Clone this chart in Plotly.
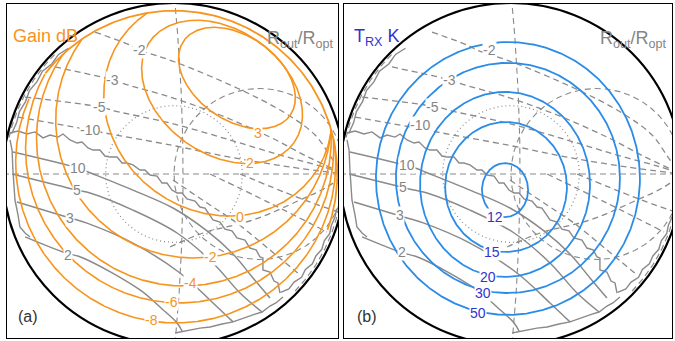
import numpy as np
import plotly.graph_objects as go

# ---------------- data (reflection-coefficient plane, |Gamma| = 1 is the rim) ----------------
# Gain contours of panel (a), dB, modelled as (tilted) ellipses
gain_levels = [3, 2, 0, -2, -4, -6, -8]
gain_cu = [0.368, 0.281, 0.257, 0.114, 0.058, 0.033, 0.010]
gain_cv = [0.561, 0.480, 0.398, 0.315, 0.207, 0.147, 0.065]
gain_a = [0.380, 0.515, 0.690, 0.806, 0.862, 0.901, 0.936]
gain_b = [0.246, 0.363, 0.620, 0.806, 0.862, 0.901, 0.936]
gain_ang = [-35, -35, -35, 0, 0, 0, 0]
gain_lab_u = [0.491, 0.444, 0.386, 0.211, 0.094, -0.012, -0.129]
gain_lab_v = [0.240, 0.064, -0.251, -0.485, -0.637, -0.749, -0.854]
gain_edge = 0.955          # limit of the computed gain map
gain_edge_ang = [142, -20]

# Receiver noise temperature contours of panel (b), K
trx_levels = [12, 15, 20, 30, 50]
trx_cu = [-0.035, -0.029, -0.035, -0.018, -0.018]
trx_cv = [-0.094, -0.076, -0.061, -0.023, -0.026]
trx_rx = [0.135, 0.356, 0.497, 0.655, 0.772]
trx_ry = [0.158, 0.380, 0.541, 0.673, 0.798]
trx_lab_u = [-0.094, -0.111, -0.135, -0.164, -0.193]
trx_lab_v = [-0.251, -0.456, -0.602, -0.696, -0.813]

# Rout/Ropt contours (identical in both panels)
rp2_u = [-0.871, -0.649, -0.532, -0.199, -0.082, 0.018, 0.047]
rp2_v = [-0.368, -0.456, -0.491, -0.678, -0.778, -0.871, -0.918]
rp3_u = [-0.918, -0.608, -0.509, -0.240, 0.035, 0.228, 0.345]
rp3_v = [-0.164, -0.257, -0.287, -0.404, -0.579, -0.754, -0.865]
rp5_u = [-0.947, -0.567, -0.491, -0.240, 0.018, 0.228, 0.386, 0.515]
rp5_v = [0.0, -0.094, -0.111, -0.211, -0.345, -0.520, -0.696, -0.807]
rp10_u = [-0.942, -0.561, -0.503, -0.240, -0.006, 0.193, 0.345, 0.462, 0.561]
rp10_v = [0.129, 0.035, 0.012, -0.094, -0.199, -0.333, -0.468, -0.608, -0.725]
rn2_u = [-0.462, -0.257, -0.199, 0.006, 0.368, 0.649, 0.825, 0.930, 1.0]
rn2_v = [0.830, 0.754, 0.725, 0.655, 0.503, 0.357, 0.228, 0.082, 0.0]
rn3_u = [-0.696, -0.357, -0.287, -0.023, 0.269, 0.561, 0.795, 1.0]
rn3_v = [0.626, 0.550, 0.526, 0.450, 0.345, 0.216, 0.094, 0.0]
rn5_u = [-0.871, -0.433, -0.345, -0.023, 0.327, 0.620, 0.854, 1.0]
rn5_v = [0.450, 0.392, 0.368, 0.298, 0.199, 0.111, 0.047, 0.0]
rn10_u = [-0.912, -0.491, -0.404, -0.023, 0.327, 0.678, 1.0]
rn10_v = [0.333, 0.257, 0.240, 0.170, 0.099, 0.041, 0.0]
# further (unlabelled) negative contours in the lower right
rnx1_u = [-0.023, 0.170, 0.462, 0.737, 0.895, 1.0]
rnx1_v = [-0.427, -0.345, -0.269, -0.152, -0.076, 0.0]
rnx2_u = [-0.006, 0.193, 0.368, 0.561, 0.737]
rnx2_v = [-0.035, -0.170, -0.287, -0.444, -0.591]
rnx3_u = [0.211, 0.561, 0.895]
rnx3_v = [0.0, -0.170, -0.339]
rnx4_u = [0.386, 0.719, 0.959]
rnx4_v = [0.0, -0.135, -0.222]
rout_pos_levels = ["2", "3", "5", "10"]
rout_neg_levels = ["-2", "-3", "-5", "-10"]
# pole of Rout/Ropt (jagged numerical line)
pole_u = [-0.959, -0.912, -0.860, -0.813, -0.766, -0.725, -0.678, -0.649, -0.608, -0.567,
          -0.538, -0.503, -0.474, -0.433, -0.404, -0.374, -0.333, -0.304, -0.275, -0.240,
          -0.199, -0.170, -0.140, -0.099, -0.070, -0.041, -0.012, 0.018, 0.047, 0.076,
          0.123, 0.152, 0.181, 0.211, 0.228, 0.269, 0.298, 0.339, 0.368, 0.415,
          0.444, 0.480, 0.503, 0.520, 0.520, 0.561, 0.585, 0.608, 0.620]
pole_v = [0.240, 0.251, 0.234, 0.246, 0.211, 0.228, 0.216, 0.234, 0.199, 0.181,
          0.187, 0.152, 0.140, 0.140, 0.105, 0.099, 0.099, 0.064, 0.064, 0.053,
          0.023, 0.023, -0.006, -0.012, -0.053, -0.053, -0.094, -0.111, -0.111, -0.146,
          -0.158, -0.193, -0.199, -0.246, -0.269, -0.281, -0.322, -0.333, -0.374, -0.386,
          -0.433, -0.444, -0.485, -0.491, -0.561, -0.573, -0.626, -0.637, -0.696]
# edges of the computed Rout/Ropt map
edge_left_u = [-0.959, -0.947, -0.942, -0.936, -0.930, -0.912, -0.901, -0.871, -0.842]
edge_left_v = [0.199, 0.140, 0.023, -0.064, -0.152, -0.240, -0.310, -0.345, -0.368]
edge_bot_u = [0.637, 0.596, 0.561, 0.515, 0.474, 0.415, 0.345, 0.281, 0.211, 0.152, 0.094, 0.047, 0.006]
edge_bot_v = [-0.719, -0.754, -0.772, -0.807, -0.819, -0.842, -0.865, -0.877, -0.895, -0.901,
              -0.912, -0.918, -0.930]
edge_ul_ang = [130, 134, 138, 142, 146, 150, 154, 158, 162, 166]
edge_ul_r = [0.960, 0.972, 0.962, 0.976, 0.966, 0.976, 0.966, 0.975, 0.968, 0.978]
edge_lr_ang = [-48, -45, -42, -39, -36, -33, -30, -27, -24, -21, -18, -15, -12]
edge_lr_r = [0.932, 0.950, 0.945, 0.960, 0.950, 0.965, 0.958, 0.970, 0.962, 0.975, 0.968, 0.975, 0.972]
edge_ul_dash_ang = [135, 168]
edge_lr_dash_ang = [-44, -8]
# label positions per panel (order: 2, 3, 5, 10, -2, -3, -5, -10)
ra_lab_u = [-0.620, -0.608, -0.567, -0.561, -0.199, -0.357, -0.433, -0.491]
ra_lab_v = [-0.474, -0.257, -0.094, 0.035, 0.725, 0.550, 0.392, 0.257]
rb_lab_u = [-0.637, -0.649, -0.632, -0.608, -0.123, -0.357, -0.462, -0.532]
rb_lab_v = [-0.456, -0.240, -0.076, 0.053, 0.725, 0.550, 0.392, 0.287]

# ---------------- styling ----------------
ORANGE = "#F7941D"
BLUE = "#2B8CE8"
BLUE_TXT = "#3333CC"
GRAY = "#8A8A8A"
GRAY_TXT = "#858585"
DASH = "6px,4px"
DOT = "1px,3px"
F = "Arial, Liberation Sans"

fig = go.Figure()


def ellipse(cu, cv, a, b, ang, n=721):
    t = np.linspace(0, 2 * np.pi, n)
    ca, sa = np.cos(np.radians(ang)), np.sin(np.radians(ang))
    x, y = a * np.cos(t), b * np.sin(t)
    return cu + x * ca - y * sa, cv + x * sa + y * ca


def clip_disk(u, v, r):
    inside = u ** 2 + v ** 2 <= r ** 2
    if inside.all():
        return list(u), list(v)
    k = int(np.argmin(inside))
    u, v, inside = np.roll(u[:-1], -k), np.roll(v[:-1], -k), np.roll(inside[:-1], -k)
    U, V, prev = [], [], False
    for a, b, ins in zip(u, v, inside):
        if ins:
            U.append(float(a)); V.append(float(b))
        elif prev:
            U.append(None); V.append(None)
        prev = ins
    return U, V


def polar(ang, r):
    a = np.radians(np.asarray(ang, float))
    r = np.asarray(r, float)
    return list(r * np.cos(a)), list(r * np.sin(a))


def arc(a0, a1, r, n=80):
    a = np.linspace(a0, a1, n)
    return polar(a, np.full(a.size, r))


def line(xa, ya, u, v, color, width=1.4, dash=None, shape="linear"):
    fig.add_trace(go.Scatter(x=u, y=v, mode="lines", xaxis=xa, yaxis=ya, hoverinfo="skip",
                             line=dict(color=color, width=width, dash=dash, shape=shape),
                             showlegend=False))


def label(xr, yr, u, v, text, color, size=14):
    fig.add_annotation(x=u, y=v, xref=xr, yref=yr, text=text, showarrow=False,
                       font=dict(family=F, size=size, color=color),
                       bgcolor="white", borderpad=0)


def common(xa, ya, lab_u, lab_v):
    # Smith-type grid
    line(xa, ya, [-1, 1], [0, 0], GRAY, 1.1, DASH)
    u, v = ellipse(0.5, 0, 0.5, 0.5, 0)
    line(xa, ya, list(u), list(v), GRAY, 1.1, DASH)
    u, v = ellipse(-10.48, 0, 10.533, 10.533, 0, 6001)
    U, V = clip_disk(u, v, 1.0)
    line(xa, ya, U, V, GRAY, 1.1, DASH)
    u, v = ellipse(0, 0, 0.40, 0.40, 0)
    line(xa, ya, list(u), list(v), GRAY, 1.2, DOT)
    # Rout/Ropt contours
    for u, v in [(rp2_u, rp2_v), (rp3_u, rp3_v), (rp5_u, rp5_v), (rp10_u, rp10_v)]:
        line(xa, ya, u, v, GRAY, 1.5, None, "spline")
    for u, v in [(rn2_u, rn2_v), (rn3_u, rn3_v), (rn5_u, rn5_v), (rn10_u, rn10_v),
                 (rnx1_u, rnx1_v), (rnx2_u, rnx2_v), (rnx3_u, rnx3_v), (rnx4_u, rnx4_v)]:
        line(xa, ya, u, v, GRAY, 1.3, DASH, "spline")
    line(xa, ya, pole_u, pole_v, GRAY, 1.4)
    line(xa, ya, edge_left_u, edge_left_v, GRAY, 1.4)
    line(xa, ya, edge_bot_u, edge_bot_v, GRAY, 1.4)
    u, v = polar(edge_ul_ang, edge_ul_r)
    line(xa, ya, u, v, GRAY, 1.4)
    u, v = polar(edge_lr_ang, edge_lr_r)
    line(xa, ya, u, v, GRAY, 1.4)
    u, v = arc(edge_ul_dash_ang[0], edge_ul_dash_ang[1], 0.988)
    line(xa, ya, u, v, GRAY, 1.2, DASH)
    u, v = arc(edge_lr_dash_ang[0], edge_lr_dash_ang[1], 0.985)
    line(xa, ya, u, v, GRAY, 1.2, DASH)
    for t, u, v in zip(rout_pos_levels + rout_neg_levels, lab_u, lab_v):
        label(xa, ya, u, v, t, GRAY_TXT)


# panel (a)
common("x", "y", ra_lab_u, ra_lab_v)
for lev, cu, cv, a, b, ang, lu, lv in zip(gain_levels, gain_cu, gain_cv, gain_a, gain_b,
                                          gain_ang, gain_lab_u, gain_lab_v):
    u, v = ellipse(cu, cv, a, b, ang, 1441)
    U, V = clip_disk(u, v, gain_edge)
    line("x", "y", U, V, ORANGE, 1.6)
    label("x", "y", lu, lv, str(lev), ORANGE)
u, v = arc(gain_edge_ang[0], gain_edge_ang[1], gain_edge, 160)
line("x", "y", u, v, ORANGE, 1.8)

# panel (b)
common("x2", "y2", rb_lab_u, rb_lab_v)
for lev, cu, cv, rx, ry, lu, lv in zip(trx_levels, trx_cu, trx_cv, trx_rx, trx_ry,
                                       trx_lab_u, trx_lab_v):
    u, v = ellipse(cu, cv, rx, ry, 0)
    line("x2", "y2", list(u), list(v), BLUE, 1.8)
    label("x2", "y2", lu, lv, str(lev), BLUE_TXT)

# rims
for xr, yr in (("x", "y"), ("x2", "y2")):
    fig.add_shape(type="circle", xref=xr, yref=yr, x0=-1, x1=1, y0=-1, y1=1,
                  line=dict(color="black", width=2.2))

W, H = 675, 341
CX_A, CX_B, CY, S = 174, 511, 174, 171
ax = dict(showgrid=False, zeroline=False, showticklabels=False, ticks="", showline=True,
          mirror=True, linecolor="black", linewidth=1, fixedrange=True)
yr_ = [(CY - 338) / S, (CY - 4) / S]
fig.update_layout(
    width=W, height=H, margin=dict(l=0, r=0, t=0, b=0),
    paper_bgcolor="white", plot_bgcolor="rgba(0,0,0,0)",
    xaxis=dict(ax, domain=[7 / W, 338 / W], range=[(7 - CX_A) / S, (338 - CX_A) / S]),
    yaxis=dict(ax, domain=[(H - 338) / H, (H - 4) / H], range=yr_),
    xaxis2=dict(ax, domain=[344 / W, 672 / W], range=[(344 - CX_B) / S, (672 - CX_B) / S],
                anchor="y2"),
    yaxis2=dict(ax, domain=[(H - 338) / H, (H - 4) / H], range=yr_, anchor="x2"),
)

fig.add_annotation(x=11 / W, y=1 - 24 / H, xref="paper", yref="paper", xanchor="left",
                   text="Gain dB", showarrow=False, font=dict(family=F, size=18, color=ORANGE))
fig.add_annotation(x=336 / W, y=1 - 26 / H, xref="paper", yref="paper", xanchor="right",
                   text="R<sub>out</sub>/R<sub>opt</sub>", showarrow=False,
                   font=dict(family=F, size=18, color=GRAY_TXT))
fig.add_annotation(x=352 / W, y=1 - 24 / H, xref="paper", yref="paper", xanchor="left",
                   text="T<sub>RX</sub> K", showarrow=False, font=dict(family=F, size=18, color=BLUE_TXT))
fig.add_annotation(x=669 / W, y=1 - 26 / H, xref="paper", yref="paper", xanchor="right",
                   text="R<sub>out</sub>/R<sub>opt</sub>", showarrow=False,
                   font=dict(family=F, size=18, color=GRAY_TXT))
fig.add_annotation(x=16 / W, y=1 - 327 / H, xref="paper", yref="paper", xanchor="left",
                   text="(a)", showarrow=False, font=dict(family=F, size=16, color="#333333"))
fig.add_annotation(x=355 / W, y=1 - 327 / H, xref="paper", yref="paper", xanchor="left",
                   text="(b)", showarrow=False, font=dict(family=F, size=16, color="#333333"))

fig.write_html("out.html")
